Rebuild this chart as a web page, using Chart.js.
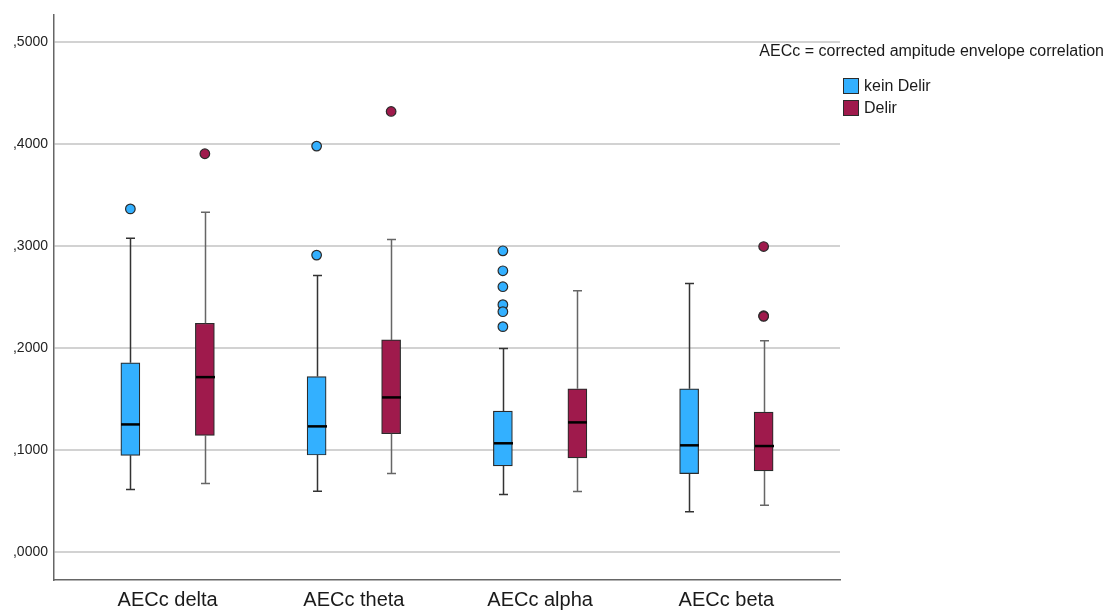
<!DOCTYPE html>
<html>
<head>
<meta charset="utf-8">
<script src="https://cdn.jsdelivr.net/npm/chart.js@4/dist/chart.umd.min.js"></script>
<style>
  html, body { margin: 0; padding: 0; background: #fff; }
</style>
</head>
<body>
<canvas id="boxChart" width="1110" height="612"></canvas>
<script>
const categories = ['AECc delta', 'AECc theta', 'AECc alpha', 'AECc beta'];
const groups = ['kein Delir', 'Delir'];
const yTicks = [0, 0.1, 0.2, 0.3, 0.4, 0.5];
const noteText = 'AECc = corrected ampitude envelope correlation';

// [whisker low, Q1, median, Q3, whisker high] for each band
const keinDelirStats = [
  [0.0613, 0.0949, 0.1252, 0.1856, 0.3079],
  [0.0597, 0.0952, 0.1233, 0.1722, 0.2714],
  [0.0564, 0.0845, 0.1067, 0.1383, 0.1996],
  [0.0395, 0.0770, 0.1047, 0.1601, 0.2635]
];
const delirStats = [
  [0.0672, 0.1145, 0.1716, 0.2244, 0.3333],
  [0.0770, 0.1161, 0.1517, 0.2081, 0.3066],
  [0.0594, 0.0923, 0.1272, 0.1601, 0.2564],
  [0.0460, 0.0796, 0.1040, 0.1373, 0.2074]
];
const keinDelirOutliers = [
  [0.3366],
  [0.3982, 0.2913],
  [0.2955, 0.2759, 0.2603, 0.2427, 0.2358, 0.2211],
  []
];
const delirOutliers = [
  [0.3907],
  [0.4322],
  [],
  [0.2997, 0.2318, 0.2312]
];

const colors = ['#33b0ff', '#9f1a4c'];
const groupOffset = [-0.2, 0.2];
const allStats = [keinDelirStats, delirStats];
const allOutliers = [keinDelirOutliers, delirOutliers];
const fontFamily = '"Liberation Sans", Arial, sans-serif';

// boxes as floating bars from Q1 to Q3
const boxSets = allStats.map((stats, g) => ({
  type: 'bar',
  label: groups[g],
  data: stats.map((s, i) => ({ x: i + groupOffset[g], y: [s[1], s[3]] })),
  backgroundColor: colors[g],
  borderColor: '#2b2b2b',
  borderWidth: 1.2,
  borderSkipped: false,
  barThickness: 19,
  grouped: false,
  order: 2
}));

const outlierSets = allOutliers.map((lists, g) => ({
  type: 'scatter',
  label: groups[g] + ' outliers',
  data: lists.flatMap((vals, i) => vals.map(v => ({ x: i + groupOffset[g], y: v }))),
  backgroundColor: colors[g],
  borderColor: '#2b2b2b',
  borderWidth: 1.2,
  pointRadius: 4.8,
  order: 1
}));

// whiskers, caps and median lines
const whiskerPlugin = {
  id: 'whiskers',
  afterDatasetsDraw(chart) {
    const { ctx, scales: { x, y } } = chart;
    ctx.save();
    allStats.forEach((stats, g) => {
      stats.forEach((s, i) => {
        const cx = Math.round(x.getPixelForValue(i + groupOffset[g])) + 0.5;
        const yLo = y.getPixelForValue(s[0]);
        const yQ1 = y.getPixelForValue(s[1]);
        const yMed = y.getPixelForValue(s[2]);
        const yQ3 = y.getPixelForValue(s[3]);
        const yHi = y.getPixelForValue(s[4]);
        ctx.strokeStyle = g === 0 ? '#333' : '#666';
        ctx.lineWidth = 1.5;
        ctx.beginPath();
        ctx.moveTo(cx, yQ3); ctx.lineTo(cx, yHi);
        ctx.moveTo(cx, yQ1); ctx.lineTo(cx, yLo);
        ctx.moveTo(cx - 4.5, yHi); ctx.lineTo(cx + 4.5, yHi);
        ctx.moveTo(cx - 4.5, yLo); ctx.lineTo(cx + 4.5, yLo);
        ctx.stroke();
        ctx.strokeStyle = '#000';
        ctx.lineWidth = 2.5;
        ctx.beginPath();
        ctx.moveTo(cx - 9.5, yMed); ctx.lineTo(cx + 9.5, yMed);
        ctx.stroke();
      });
    });
    ctx.restore();
  }
};

// note and group legend on the right
const legendPlugin = {
  id: 'sideLegend',
  afterDraw(chart) {
    const ctx = chart.ctx;
    ctx.save();
    ctx.fillStyle = '#1a1a1a';
    ctx.font = '16px ' + fontFamily;
    ctx.textAlign = 'right';
    ctx.textBaseline = 'middle';
    ctx.fillText(noteText, 1104, 52);
    ctx.textAlign = 'left';
    ctx.font = '16px ' + fontFamily;
    groups.forEach((name, g) => {
      const top = 78 + g * 22;
      ctx.fillStyle = colors[g];
      ctx.fillRect(843, top, 16, 16);
      ctx.strokeStyle = '#2b2b2b';
      ctx.lineWidth = 1;
      ctx.strokeRect(843.5, top + 0.5, 15, 15);
      ctx.fillStyle = '#1a1a1a';
      ctx.fillText(name, 864, top + 9);
    });
    ctx.restore();
  }
};

new Chart(document.getElementById('boxChart'), {
  data: { datasets: [...outlierSets, ...boxSets] },
  options: {
    responsive: false,
    animation: false,
    devicePixelRatio: 1,
    layout: { padding: { top: 13, right: 270, left: 0, bottom: 0 } },
    plugins: { legend: { display: false }, tooltip: { enabled: false } },
    scales: {
      x: {
        type: 'linear',
        offset: false,
        min: -0.61,
        max: 3.61,
        afterBuildTicks: s => { s.ticks = categories.map((c, i) => ({ value: i })); },
        afterFit: s => { s.height = 32; },
        ticks: {
          callback: v => categories[v],
          color: '#1a1a1a',
          font: { family: fontFamily, size: 20 },
          padding: 8,
          maxRotation: 0
        },
        grid: { display: false, drawTicks: false },
        border: { color: '#666', width: 1.5 }
      },
      y: {
        min: -0.0274,
        max: 0.5274,
        afterBuildTicks: s => { s.ticks = yTicks.map(v => ({ value: v })); },
        afterFit: s => { s.width = 54; },
        ticks: {
          callback: v => v.toFixed(4).replace('0.', ','),
          color: '#222',
          font: { family: fontFamily, size: 14 },
          padding: 6
        },
        grid: { color: '#d2d2d2', lineWidth: 2, drawTicks: false },
        border: { color: '#666', width: 1.5 }
      }
    }
  },
  plugins: [whiskerPlugin, legendPlugin]
});
</script>
</body>
</html>
